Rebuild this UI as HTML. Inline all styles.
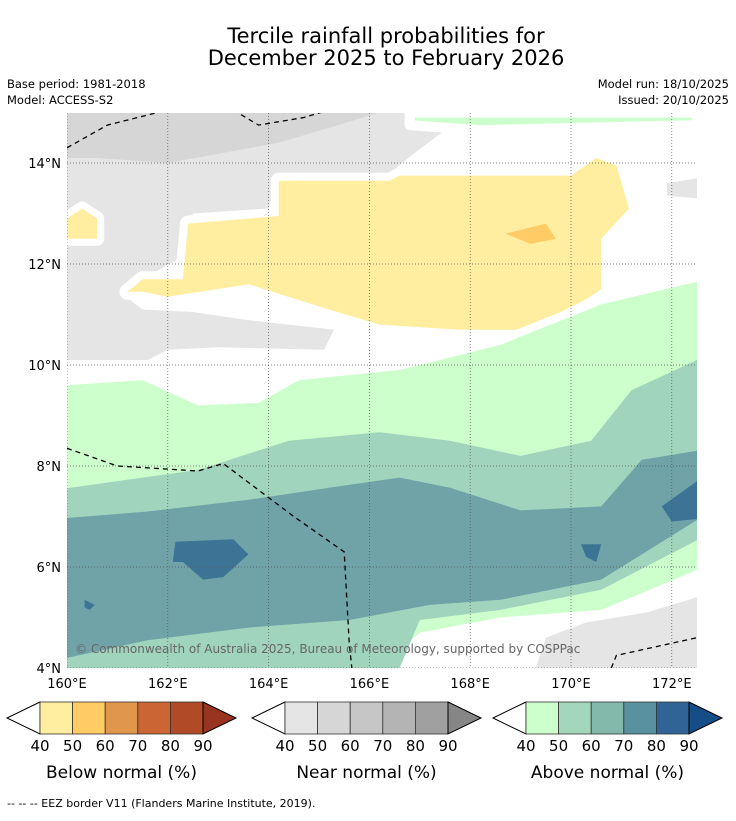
<!DOCTYPE html>
<html><head><meta charset="utf-8"><style>
body{margin:0;background:#fff;width:736px;height:816px;overflow:hidden;font-family:"Liberation Sans","DejaVu Sans",sans-serif;}
svg text{font-family:"DejaVu Sans","Liberation Sans",sans-serif;}
</style></head><body>
<svg id="s" width="736" height="816">
<text x="386" y="43" text-anchor="middle" font-size="21">Tercile rainfall probabilities for</text>
<text x="386" y="65" text-anchor="middle" font-size="21">December 2025 to February 2026</text>
<text x="7" y="88" font-size="11.5">Base period: 1981-2018</text>
<text x="7" y="104" font-size="11.5">Model: ACCESS-S2</text>
<text x="729" y="88" font-size="11.5" text-anchor="end">Model run: 18/10/2025</text>
<text x="729" y="104" font-size="11.5" text-anchor="end">Issued: 20/10/2025</text>
<defs><clipPath id="mc"><rect x="67" y="113" width="630" height="555"/></clipPath></defs>
<g id="map" clip-path="url(#mc)"></g>
<g id="axes"></g>
<text x="75" y="653" font-size="12" fill="#666">© Commonwealth of Australia 2025, Bureau of Meteorology, supported by COSPPac</text>
<g id="cbars"></g>
<text x="7" y="807" font-size="11">--  --  -- EEZ border V11 (Flanders Marine Institute, 2019).</text>
</svg>
<script>
const NS='http://www.w3.org/2000/svg';
const lonTicks=[160,162,164,166,168,170,172];
const latTicks=[4,6,8,10,12,14];
const grayLight=[[160,15],[167,15],[167,14.8],[167.7,14.8],[166.9,14.2],[166.4,13.8],[164.2,13.8],[164,13.1],[162.5,13],[162.2,12.1],[161.5,11.7],[161.1,11.4],[161.5,11.1],[162.5,11.05],[163.5,10.9],[165.3,10.7],[165.1,10.3],[163,10.35],[162,10.3],[161.6,10.1],[160,10.1]];
const grayDark=[[160,15],[166.2,15],[165.2,14.7],[164.2,14.4],[162,14.0],[160.6,14.1],[160,14.1]];
const grayBR=[[169.3,4],[169.5,4.6],[170.3,4.9],[171.5,5.1],[172.5,5.4],[172.5,4]];
const grayRsmall=[[171.9,13.6],[172.5,13.7],[172.5,13.3],[171.9,13.35]];
const yellowMain=[[161.2,11.45],[161.5,11.7],[162.3,11.7],[162.4,12.8],[164.2,12.95],[164.2,13.65],[166.4,13.65],[166.6,13.75],[170,13.75],[170.5,14.1],[170.9,13.95],[171.15,13.1],[170.6,12.5],[170.6,11.5],[170.3,11.3],[169.1,10.7],[167.8,10.7],[166.2,10.8],[165.2,11.1],[163.6,11.6],[162,11.35],[161.5,11.45]];
const yellowLeft=[[160,12.5],[160.6,12.5],[160.6,12.9],[160.3,13.1],[160,12.9]];
const orangeSpot=[[168.7,12.6],[169.5,12.8],[169.7,12.5],[169.2,12.4]];
const greenTop=[[166.8,15],[172.5,15],[172.5,14.75],[168.2,14.65],[166.8,14.75]];
const green40=[[160,9.6],[161.5,9.7],[162.6,9.2],[163.8,9.25],[164.6,9.7],[166.6,9.9],[168.6,10.4],[170.6,11.2],[172.5,11.65],[172.5,5.94],[170.6,5.15],[168.6,5.0],[167,4.7],[166.6,4.35],[166.6,4],[160,4]];
const green50=[[160,7.56],[161,7.7],[162.6,7.92],[164.4,8.5],[166.2,8.67],[167.6,8.5],[169,8.2],[170.4,8.5],[171.2,9.5],[172.5,10.1],[172.5,6.53],[170.6,5.55],[168.6,5.15],[167,4.95],[166.6,4],[160,4]];
const teal70=[[160,6.97],[161.6,7.1],[163.6,7.33],[165.2,7.57],[166.6,7.77],[167.6,7.57],[169,7.12],[170.6,7.2],[171.4,8.12],[172.5,8.3],[172.5,6.93],[170.6,5.75],[168.6,5.35],[167.2,5.25],[165.6,4.95],[163.6,4.8],[161.6,4.55],[160,4.2]];
const dark1=[[162.15,6.5],[163.3,6.55],[163.6,6.25],[163.1,5.8],[162.7,5.75],[162.3,6.1],[162.1,6.1]];
const dark2=[[171.8,7.2],[172.5,7.7],[172.5,6.95],[172,6.9]];
const dark3=[[170.2,6.45],[170.6,6.45],[170.5,6.1],[170.3,6.2]];
const dark4=[[160.35,5.35],[160.55,5.25],[160.45,5.15],[160.35,5.2]];
const eez1=[[160,14.3],[160.8,14.75],[162,15.05]];
const eez2=[[163.3,15.05],[163.8,14.75],[164.7,14.9],[165.2,15.05]];
const eez3=[[160,8.35],[161,8.0],[162.6,7.9],[163.1,8.05],[164.5,7.0],[165.5,6.3],[165.6,4.5],[165.65,4]];
const eez4=[[170.8,4],[170.9,4.25],[172.5,4.6]];
const cbLabels=[40,50,60,70,80,90];
const cbBelow=['#ffeda0','#fecb65','#e0964b','#cb6534','#b04a27','#98341f'];
const cbNear=['#e5e5e5','#d6d6d6','#c6c6c6','#b4b4b4','#a0a0a0','#868686'];
const cbAbove=['#ccffcc','#a3d7bb','#82b9ab','#5a91a0','#316496','#154e86'];
const X=lon=>67+(lon-160)*50.4;
const Y=lat=>668-(lat-4)*50.5;
const map=document.getElementById('map');
function poly(pts,fill,name,stroke,sw){const p=document.createElementNS(NS,'polygon');
p.setAttribute('points',pts.map(d=>X(d[0]).toFixed(1)+','+Y(d[1]).toFixed(1)).join(' '));
p.setAttribute('fill',fill);if(stroke){p.setAttribute('stroke',stroke);p.setAttribute('stroke-width',sw);p.setAttribute('stroke-linejoin','round');}


map.appendChild(p);}
function line(pts,name){const p=document.createElementNS(NS,'polyline');
p.setAttribute('points',pts.map(d=>X(d[0]).toFixed(1)+','+Y(d[1]).toFixed(1)).join(' '));
p.setAttribute('fill','none');p.setAttribute('stroke','#000');p.setAttribute('stroke-width','1.3');p.setAttribute('stroke-dasharray','5,4');


map.appendChild(p);}
poly(grayLight,'#e5e5e5','near-normal-40');
poly(grayDark,'#d6d6d6','near-normal-50');
poly(grayRsmall,'#e5e5e5','near-normal-40-right');
poly(yellowLeft,'#ffeda0','below-normal-40-left','#fff',14);
poly(yellowMain,'#ffeda0','below-normal-40-halo','#fff',16);
poly(yellowLeft,'#ffeda0','below-normal-40-left');
poly(yellowMain,'#ffeda0','below-normal-40');
poly(orangeSpot,'#fecb65','below-normal-50');
poly(greenTop,'#ccffcc','above-normal-40-top','#fff',10);
poly(green40,'#fff','above-normal-halo','#fff',16);
poly(grayBR,'#e5e5e5','near-normal-40-bottom');
poly(green40,'#ccffcc','above-normal-40');
poly(green50,'#a0d4bd','above-normal-50');
poly(teal70,'#6fa3a8','above-normal-60');
[dark1,dark2,dark3,dark4].forEach((d,i)=>poly(d,'#3d7496','above-normal-70-'+i));
const g=document.getElementById('axes');
function el(tag,attrs,parent,name,text){const e=document.createElementNS(NS,tag);for(const k in attrs)e.setAttribute(k,attrs[k]);


if(text!==undefined)e.textContent=text;parent.appendChild(e);return e;}
lonTicks.forEach(l=>{el('line',{x1:X(l),x2:X(l),y1:113,y2:668,stroke:'#555','stroke-width':0.7,'stroke-dasharray':'1,2'},map,'gridline-lon');
el('text',{x:X(l),y:688,'font-size':13,'text-anchor':'middle'},g,'x-tick-label',l+'°E');});
latTicks.forEach(l=>{el('line',{x1:67,x2:697,y1:Y(l),y2:Y(l),stroke:'#555','stroke-width':0.7,'stroke-dasharray':'1,2'},map,'gridline-lat');
el('text',{x:61,y:Y(l)+5,'font-size':13,'text-anchor':'end'},g,'y-tick-label',l+'°N');});
line(eez1,'eez-border');line(eez2,'eez-border');line(eez3,'eez-border');line(eez4,'eez-border');
const cb=document.getElementById('cbars');
function cbar(x0,cols,title,name){const y0=702,h=32,w=32.6,t=33;
const grp=el('g',{},cb,name);
el('polygon',{points:`${x0+t},${y0} ${x0},${y0+h/2} ${x0+t},${y0+h}`,fill:'#fff',stroke:'#000','stroke-width':1},grp,name+'-min-arrow');
for(let i=0;i<5;i++)el('rect',{x:x0+t+i*w,y:y0,width:w,height:h,fill:cols[i],stroke:'#333','stroke-width':0.8},grp,name+'-box');
const xe=x0+t+5*w;
el('polygon',{points:`${xe},${y0} ${xe+t},${y0+h/2} ${xe},${y0+h}`,fill:cols[5],stroke:'#000','stroke-width':1},grp,name+'-max-arrow');
cbLabels.forEach((v,i)=>el('text',{x:x0+t+i*w,y:751,'font-size':15,'text-anchor':'middle'},grp,name+'-label',v));
el('text',{x:x0+t+2.5*w,y:778,'font-size':17,'text-anchor':'middle'},grp,name+'-title',title);}
cbar(7,cbBelow,'Below normal (%)','below-colorbar');
cbar(252,cbNear,'Near normal (%)','near-colorbar');
cbar(493,cbAbove,'Above normal (%)','above-colorbar');
</script>
</body></html>
